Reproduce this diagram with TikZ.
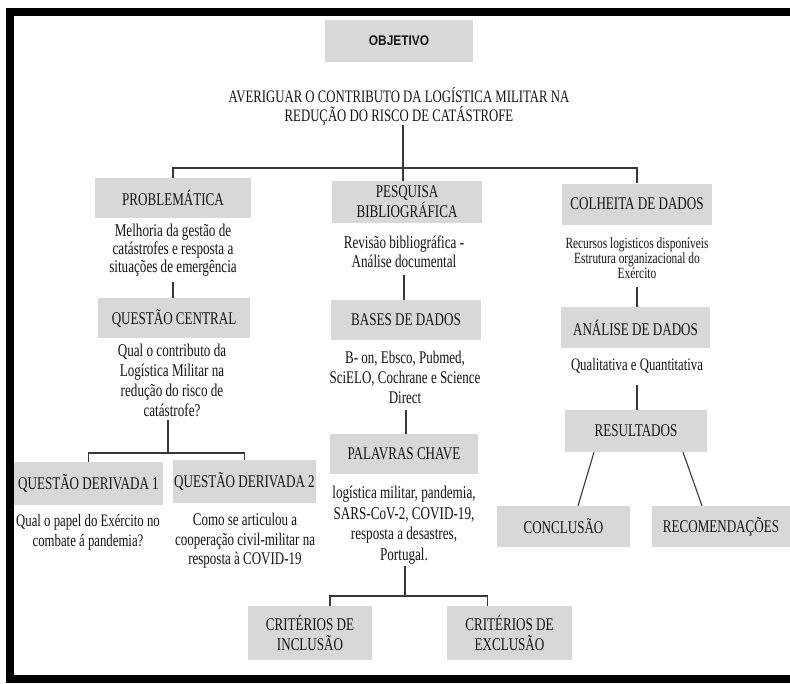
\documentclass[tikz,border=0pt]{standalone}
\usepackage{fontspec}
\setmainfont[FakeStretch=0.73]{Liberation Serif}
\newfontfamily\objfont[FakeStretch=0.85]{Liberation Sans}
\usetikzlibrary{calc}
\definecolor{boxgray}{RGB}{216,216,216}
\definecolor{linegray}{RGB}{55,55,55}
\definecolor{txt}{RGB}{20,20,20}
\tikzset{
  gbox/.style={fill=boxgray, draw=none, align=center, text=txt, inner sep=0pt,
    font=\fontsize{17.9}{20}\selectfont},
  btxt/.style={align=center, text=txt, inner sep=0pt, font=\fontsize{18}{19}\selectfont},
  conn/.style={draw=linegray, line width=1.1pt}
}
\begin{document}
\begin{tikzpicture}[x=1pt,y=-1pt]
\useasboundingbox (0,0) rectangle (790,683);
\fill[white] (0,0) rectangle (790,683);
% frame
\fill[black] (6,8) rectangle (790,16);
\fill[black] (6,8) rectangle (14,683);
\fill[black] (6,675) rectangle (790,683);

% top
\node[gbox, minimum width=148pt, minimum height=42pt, font=\objfont\bfseries\fontsize{14}{16}\selectfont] (obj) at (399,41) {OBJETIVO};
\node[btxt, font=\fontsize{17.5}{19}\selectfont] (title) at (399,106) {AVERIGUAR O CONTRIBUTO DA LOGÍSTICA MILITAR NA\\REDUÇÃO DO RISCO DE CATÁSTROFE};
\coordinate (j1) at (403,168);

% left column
\node[gbox, minimum width=156pt, minimum height=40pt] (prob) at (173,198) {PROBLEMÁTICA};
\node[btxt, font=\fontsize{18}{18}\selectfont] (probtxt) at (173,250) {Melhoria da gestão de\\catástrofes e resposta a\\situações de emergência};
\node[gbox, minimum width=152pt, minimum height=40pt] (qc) at (174,318) {QUESTÃO CENTRAL};
\node[btxt, font=\fontsize{18}{20}\selectfont] (qctxt) at (172,380) {Qual o contributo da\\Logística Militar na\\redução do risco de\\catástrofe?};
\coordinate (j2) at (168,453);
\node[gbox, minimum width=149pt, minimum height=43pt] (qd1) at (88.5,483.5) {QUESTÃO DERIVADA 1};
\node[gbox, minimum width=143pt, minimum height=43pt] (qd2) at (244.5,481.5) {QUESTÃO DERIVADA 2};
\node[btxt, font=\fontsize{17.5}{20}\selectfont] (qd1txt) at (88,532) {Qual o papel do Exército no\\combate á pandemia?};
\node[btxt, font=\fontsize{17.8}{19.5}\selectfont] (qd2txt) at (245,541) {Como se articulou a\\cooperação civil-militar na\\resposta à COVID-19};

% middle column
\node[gbox, minimum width=150pt, minimum height=42pt] (pesq) at (407,202) {PESQUISA\\BIBLIOGRÁFICA};
\node[btxt] (pesqtxt) at (404,252) {Revisão bibliográfica -\\Análise documental};
\node[gbox, minimum width=150pt, minimum height=40pt] (bases) at (406,320) {BASES DE DADOS};
\node[btxt, font=\fontsize{17.8}{20}\selectfont] (basestxt) at (405,377) {B- on, Ebsco, Pubmed,\\SciELO, Cochrane e Science\\Direct};
\node[gbox, minimum width=148pt, minimum height=40pt] (pal) at (404,454) {PALAVRAS CHAVE};
\node[btxt, font=\fontsize{18}{20.5}\selectfont] (paltxt) at (404,525) {logística militar, pandemia,\\SARS-CoV-2, COVID-19,\\resposta a desastres,\\Portugal.};
\coordinate (j3) at (405,596);
\node[gbox, minimum width=124pt, minimum height=54pt] (incl) at (310,633) {CRITÉRIOS DE\\INCLUSÃO};
\node[gbox, minimum width=125pt, minimum height=54pt] (excl) at (509.5,633) {CRITÉRIOS DE\\EXCLUSÃO};

% right column
\node[gbox, minimum width=150pt, minimum height=41pt] (colh) at (637,204) {COLHEITA DE DADOS};
\node[btxt, font=\fontsize{15.6}{15}\selectfont] (colhtxt) at (637,258) {Recursos logisticos disponíveis\\Estrutura organizacional do\\Exército};
\node[gbox, minimum width=149pt, minimum height=41pt] (anal) at (635.5,327.5) {ANÁLISE DE DADOS};
\node[btxt, font=\fontsize{17.5}{19}\selectfont] (analtxt) at (637,366) {Qualitativa e Quantitativa};
\node[gbox, minimum width=142pt, minimum height=42pt] (res) at (636,431) {RESULTADOS};
\node[gbox, minimum width=133pt, minimum height=41pt] (concl) at (563.5,526.5) {CONCLUSÃO};
\node[gbox, minimum width=138pt, minimum height=41pt] (recom) at (721,526.5) {RECOMENDAÇÕES};

% connectors
\draw[conn] (j1 |- 0,125) -- (j1);
\draw[conn] (prob.north) |- (j1) -| (colh.north);
\draw[conn] (j1) -- (j1 |- pesq.north);
\draw[conn] (probtxt.south |- 0,282) -- (probtxt.south |- qc.north);
\draw[conn] (j2 |- 0,420) -- (j2);
\draw[conn] (qd1.north) |- (j2) -| (qd2.north);
\draw[conn] (pesqtxt.south |- 0,275) -- (pesqtxt.south |- bases.north);
\draw[conn] (bases.north |- 0,410) -- (bases.north |- pal.north);
\draw[conn] (j3 |- 0,566) -- (j3);
\draw[conn] ($(incl.north)+(20,0)$) |- (j3) -| ($(excl.north)+(-22,0)$);
\draw[conn] (colh.north |- 0,287) -- (colh.north |- anal.north);
\draw[conn] (colh.north |- 0,385) -- (colh.north |- res.north);
\draw[conn] ($(res.south)+(-42,0)$) -- ($(concl.north)+(14.5,0)$);
\draw[conn] ($(res.south)+(47,0)$) -- ($(recom.north)+(-19,0)$);
\end{tikzpicture}
\end{document}
